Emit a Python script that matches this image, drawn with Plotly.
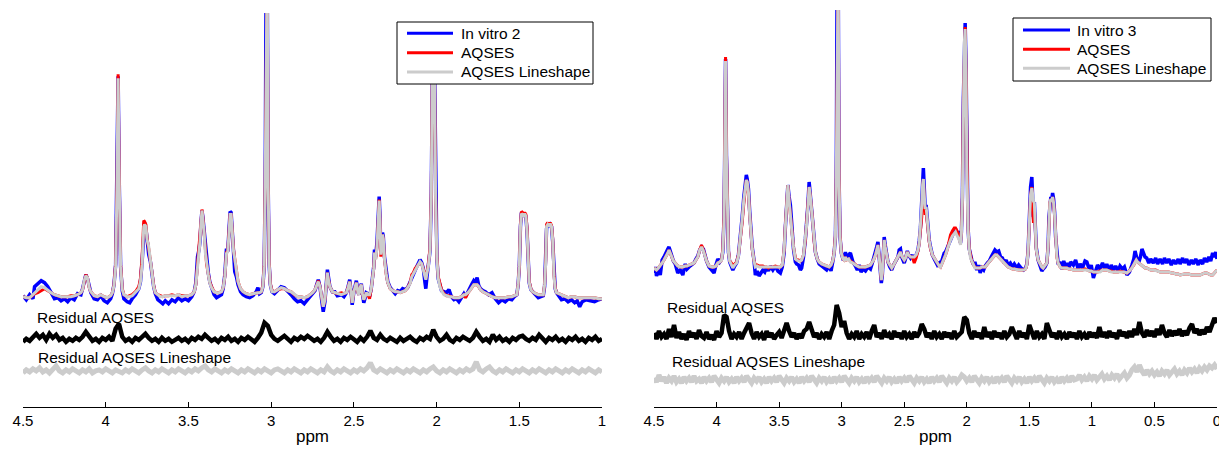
import numpy as np
import plotly.graph_objects as go

FONT = "Liberation Sans, Arial, Helvetica, sans-serif"

# ---------------- Left panel (In vitro 2), chemical shift in ppm ----------------
L_PPM = [
    4.50, 4.48, 4.46, 4.44, 4.43, 4.41, 4.39, 4.37, 4.35, 4.33,
    4.31, 4.29, 4.27, 4.25, 4.23, 4.21, 4.19, 4.17, 4.15, 4.14,
    4.13, 4.12, 4.11, 4.10, 4.09, 4.07, 4.05, 4.03, 4.01, 3.99,
    3.97, 3.96, 3.95, 3.94, 3.932, 3.925, 3.918, 3.91, 3.90, 3.89,
    3.87, 3.855, 3.84, 3.82, 3.80, 3.79, 3.78, 3.77, 3.765, 3.757,
    3.75, 3.74, 3.73, 3.72, 3.71, 3.70, 3.685, 3.67, 3.655, 3.64,
    3.62, 3.60, 3.58, 3.56, 3.54, 3.52, 3.50, 3.48, 3.465, 3.455,
    3.445, 3.437, 3.43, 3.425, 3.418, 3.412, 3.405, 3.398, 3.39, 3.38,
    3.37, 3.36, 3.345, 3.33, 3.315, 3.30, 3.29, 3.28, 3.27, 3.262,
    3.255, 3.248, 3.242, 3.235, 3.228, 3.22, 3.21, 3.20, 3.185, 3.17,
    3.15, 3.13, 3.11, 3.09, 3.08, 3.07, 3.06, 3.05, 3.042, 3.036,
    3.03, 3.024, 3.018, 3.012, 3.005, 2.995, 2.98, 2.96, 2.94, 2.92,
    2.90, 2.88, 2.86, 2.84, 2.82, 2.80, 2.78, 2.765, 2.75, 2.735,
    2.725, 2.715, 2.705, 2.695, 2.685, 2.675, 2.667, 2.66, 2.652, 2.645,
    2.63, 2.615, 2.60, 2.575, 2.56, 2.545, 2.535, 2.525, 2.515, 2.51,
    2.50, 2.49, 2.485, 2.475, 2.47, 2.46, 2.455, 2.448, 2.44, 2.43,
    2.425, 2.415, 2.405, 2.395, 2.39, 2.38, 2.375, 2.368, 2.36, 2.353,
    2.347, 2.342, 2.337, 2.333, 2.327, 2.322, 2.315, 2.305, 2.295, 2.28,
    2.265, 2.25, 2.235, 2.22, 2.205, 2.19, 2.175, 2.16, 2.15, 2.14,
    2.13, 2.12, 2.11, 2.10, 2.09, 2.08, 2.07, 2.065, 2.058, 2.05,
    2.04, 2.032, 2.024, 2.014, 2.006, 1.998, 1.99, 1.98, 1.97, 1.955,
    1.94, 1.925, 1.91, 1.895, 1.88, 1.865, 1.85, 1.835, 1.825, 1.81,
    1.795, 1.785, 1.775, 1.765, 1.755, 1.745, 1.735, 1.72, 1.705, 1.685,
    1.665, 1.645, 1.625, 1.605, 1.585, 1.565, 1.545, 1.53, 1.515, 1.507,
    1.50, 1.493, 1.487, 1.48, 1.473, 1.467, 1.46, 1.453, 1.447, 1.44,
    1.43, 1.42, 1.40, 1.385, 1.37, 1.355, 1.347, 1.34, 1.335, 1.328,
    1.32, 1.313, 1.305, 1.298, 1.29, 1.283, 1.275, 1.26, 1.245, 1.225,
    1.205, 1.185, 1.165, 1.15, 1.135, 1.12, 1.095, 1.07, 1.045, 1.02,
    1.00,
]
L_INVITRO = [
    1, -3, 2, -2, 10, 13, 16, 14, 10, 4,
    -2, -1, -4, -2, -5, -1, -3, 3, 2, 8,
    16, 22, 18, 10, 4, -2, -3, 1, -4, -6,
    -2, 3, 12, 32, 110, 220, 112, 30, 6, -2,
    -5, -6, -2, 2, 8, 15, 35, 70, 74, 68,
    55, 42, 35, 22, 10, 3, -3, -5, -7, -4,
    -7, -3, -5, -1, -4, -2, -4, 0, 5, 14,
    40, 46, 55, 72, 86, 78, 66, 50, 38, 24,
    14, 8, 2, -1, 1, 2, 8, 22, 48, 45,
    66, 85, 84, 64, 45, 25, 20, 12, 5, 2,
    0, -1, 1, 5, 9, 3, 4, 10, 30, 110,
    330, 330, 110, 32, 12, 5, 3, 6, 10, 9,
    6, 2, -2, -5, -4, -7, -3, 0, 3, 6,
    12, 17, 10, 0, -15, -5, 12, 27, 18, 10,
    5, 5, 1, 2, 0, 4, 10, 17, 2, -8,
    5, 14, 16, 5, 2, 10, 13, 3, -6, 0,
    4, 3, 0, 8, 14, 30, 47, 40, 55, 80,
    100, 80, 45, 50, 64, 60, 40, 25, 15, 9,
    6, 3, 6, 5, 8, 7, 9, 14, 18, 22,
    26, 30, 34, 37, 34, 28, 14, 8, 20, 30,
    45, 100, 250, 250, 100, 38, 18, 10, 6, 5,
    4, 7, 0, -3, -2, -5, -1, 3, 0, 6,
    10, 13, 16, 14, 19, 11, 8, 6, 5, 2,
    4, -2, -6, -3, -5, -2, -3, 0, 2, 12,
    30, 70, 84, 82, 80, 83, 80, 65, 35, 14,
    7, 5, 2, -1, 0, 1, 10, 35, 68, 73,
    70, 72, 70, 55, 20, 8, 4, 1, -3, -2,
    -5, -3, -6, -4, -10, -5, -3, -4, -5, -3,
    -2,
]
L_AQSES = [
    0, -1, -1, 2, 3, 4, 6, 8, 6, 4,
    2, 1, 0, 0, 0, 1, 1, 2, 4, 7,
    16, 22, 19, 9, 5, 1, 0, 2, 0, -1,
    1, 4, 12, 33, 112, 222, 115, 32, 8, 2,
    0, 1, 2, 5, 10, 18, 40, 76, 75, 72,
    58, 48, 38, 24, 11, 4, 2, 1, 0, 1,
    1, 2, 1, 2, 1, 1, 1, 2, 5, 12,
    32, 42, 56, 74, 87, 78, 65, 45, 32, 23,
    14, 10, 5, 4, 4, 5, 9, 20, 44, 46,
    64, 83, 82, 62, 48, 38, 25, 15, 8, 5,
    3, 2, 3, 4, 4, 4, 5, 11, 32, 115,
    330, 330, 115, 34, 13, 6, 5, 7, 8, 8,
    6, 5, 2, 0, 0, -1, 0, 2, 4, 7,
    12, 16, 10, 1, -10, -3, 12, 24, 16, 10,
    5, 4, 3, 4, 3, 4, 9, 15, 2, -6,
    5, 12, 14, 4, 2, 10, 12, 3, -3, 1,
    4, 2, -2, 8, 14, 28, 44, 38, 50, 78,
    97, 76, 40, 48, 62, 58, 38, 23, 14, 8,
    6, 5, 5, 4, 5, 6, 9, 14, 22, 24,
    28, 30, 32, 34, 33, 28, 22, 18, 25, 32,
    48, 104, 252, 252, 104, 40, 20, 12, 7, 3,
    1, 1, 0, -1, -1, -1, 0, 2, -1, 4,
    7, 10, 12, 12, 12, 10, 7, 5, 4, 2,
    0, -1, -1, -1, -1, 0, 0, 1, 2, 12,
    30, 72, 85, 84, 82, 84, 82, 68, 38, 15,
    8, 5, 3, 2, 2, 2, 12, 37, 72, 74,
    71, 74, 71, 58, 22, 9, 4, 3, 2, 1,
    -1, 0, 0, -1, -1, -1, -1, -1, -1, -2,
    -2,
]
L_LINESHAPE = [
    0, -1, -1, 2, 4, 7, 10, 9, 6, 4,
    2, 1, 0, 0, 0, 0, 1, 2, 4, 7,
    16, 21, 19, 9, 5, 1, 0, 2, 0, -1,
    1, 4, 11, 30, 108, 218, 110, 30, 7, 2,
    0, 0, 1, 4, 8, 15, 32, 70, 72, 70,
    57, 50, 38, 24, 10, 4, 2, 0, 0, 1,
    1, 1, 1, 2, 0, 1, 1, 2, 5, 12,
    30, 40, 55, 72, 86, 76, 64, 44, 32, 22,
    13, 9, 5, 4, 4, 5, 9, 20, 43, 45,
    62, 82, 82, 62, 46, 38, 24, 15, 8, 5,
    3, 2, 3, 4, 4, 4, 5, 10, 30, 110,
    330, 330, 110, 32, 12, 5, 5, 7, 9, 8,
    6, 5, 2, 0, 0, -1, 0, 2, 4, 7,
    12, 15, 10, 1, -10, -3, 12, 24, 15, 10,
    5, 4, 3, 2, 3, 4, 9, 15, 2, -6,
    5, 12, 14, 4, 2, 10, 12, 3, -3, 1,
    4, 2, 2, 8, 14, 28, 44, 37, 50, 77,
    96, 76, 42, 48, 62, 58, 38, 23, 14, 8,
    6, 5, 5, 4, 5, 6, 9, 13, 20, 23,
    27, 30, 33, 35, 33, 27, 20, 17, 24, 30,
    45, 100, 250, 250, 100, 38, 18, 10, 6, 2,
    1, 0, 0, -1, -1, -1, 0, 2, 2, 4,
    7, 10, 12, 12, 12, 10, 7, 5, 4, 2,
    0, -1, -1, -1, -1, 0, 0, 1, 2, 12,
    30, 70, 83, 82, 80, 83, 80, 65, 35, 14,
    7, 5, 3, 2, 2, 2, 12, 35, 70, 72,
    70, 73, 70, 56, 20, 8, 4, 3, 2, 1,
    -1, 0, 0, -1, -1, -1, -1, -1, -1, -2,
    -2,
]
# residuals (sampled every 0.02 ppm from 4.50 down to 1.00), plotted offset below
L_RES_PPM = np.round(4.50 - 0.02 * np.arange(176), 2)
L_RES_AQSES = [
    -45, -42, -44, -40, -37, -41, -38, -43, -37, -41,
    -38, -43, -41, -45, -42, -44, -41, -43, -40, -35,
    -39, -44, -42, -45, -41, -43, -40, -44, -32, -27,
    -40, -44, -42, -45, -41, -43, -40, -37, -41, -44,
    -42, -45, -41, -44, -42, -45, -43, -41, -44, -42,
    -45, -41, -43, -40, -42, -38, -41, -44, -42, -45,
    -41, -43, -40, -44, -42, -45, -41, -43, -40, -42,
    -45, -41, -36, -26, -29, -38, -42, -44, -41, -39,
    -42, -45, -41, -43, -40, -42, -39, -41, -44, -42,
    -45, -41, -35, -40, -44, -42, -45, -41, -43, -40,
    -42, -45, -41, -44, -40, -34, -41, -43, -38, -42,
    -44, -41, -43, -45, -41, -44, -42, -40, -43, -45,
    -41, -43, -40, -42, -33, -40, -44, -42, -38, -43,
    -45, -41, -43, -40, -42, -44, -41, -35, -40, -44,
    -42, -45, -38, -43, -40, -44, -42, -45, -41, -43,
    -40, -39, -42, -44, -41, -43, -38, -42, -45, -41,
    -43, -40, -44, -42, -45, -41, -43, -40, -44, -42,
    -45, -41, -43, -40, -44, -42,
]
L_RES_LINESHAPE = [
    -76, -73, -75, -72, -74, -71, -75, -73, -76, -72,
    -69, -74, -76, -73, -75, -72, -74, -76, -73, -75,
    -72, -76, -74, -73, -75, -72, -74, -76, -73, -74,
    -76, -73, -75, -72, -74, -76, -73, -71, -74, -76,
    -73, -75, -72, -74, -76, -73, -75, -72, -74, -76,
    -73, -75, -72, -74, -71, -69, -73, -75, -72, -74,
    -76, -73, -75, -72, -74, -76, -73, -75, -72, -74,
    -76, -73, -75, -72, -74, -76, -73, -72, -74, -76,
    -73, -75, -72, -74, -76, -73, -75, -72, -74, -76,
    -73, -75, -70, -74, -76, -73, -75, -72, -74, -76,
    -73, -75, -72, -74, -71, -66, -73, -75, -72, -74,
    -76, -73, -75, -72, -74, -76, -73, -75, -72, -74,
    -76, -73, -75, -72, -70, -74, -76, -73, -75, -72,
    -74, -76, -73, -75, -72, -74, -72, -65, -73, -75,
    -72, -70, -74, -76, -73, -75, -72, -74, -76, -73,
    -75, -72, -74, -76, -73, -75, -72, -74, -76, -73,
    -75, -72, -74, -76, -73, -75, -72, -74, -76, -73,
    -75, -72, -74, -76, -73, -75,
]

# ---------------- Right panel (In vitro 3) ----------------
R_PPM = [
    4.50, 4.49, 4.48, 4.465, 4.45, 4.435, 4.42, 4.405, 4.39, 4.38,
    4.37, 4.36, 4.345, 4.33, 4.31, 4.29, 4.27, 4.25, 4.236, 4.22,
    4.20, 4.18, 4.165, 4.15, 4.135, 4.12, 4.105, 4.095, 4.08, 4.06,
    4.04, 4.02, 4.005, 3.99, 3.975, 3.96, 3.95, 3.94, 3.935, 3.928,
    3.921, 3.915, 3.905, 3.895, 3.88, 3.87, 3.855, 3.84, 3.825, 3.81,
    3.795, 3.782, 3.77, 3.762, 3.755, 3.745, 3.735, 3.725, 3.715, 3.70,
    3.69, 3.675, 3.66, 3.645, 3.63, 3.615, 3.60, 3.585, 3.57, 3.55,
    3.53, 3.51, 3.49, 3.475, 3.46, 3.45, 3.44, 3.43, 3.42, 3.41,
    3.40, 3.385, 3.37, 3.36, 3.345, 3.33, 3.32, 3.305, 3.29, 3.28,
    3.27, 3.26, 3.25, 3.24, 3.23, 3.22, 3.21, 3.195, 3.18, 3.16,
    3.14, 3.12, 3.10, 3.085, 3.07, 3.06, 3.05, 3.043, 3.036, 3.028,
    3.021, 3.013, 3.003, 2.99, 2.98, 2.97, 2.96, 2.945, 2.93, 2.91,
    2.89, 2.875, 2.86, 2.845, 2.83, 2.81, 2.79, 2.77, 2.755, 2.745,
    2.73, 2.72, 2.71, 2.70, 2.69, 2.683, 2.675, 2.668, 2.66, 2.652,
    2.643, 2.63, 2.615, 2.60, 2.585, 2.565, 2.55, 2.54, 2.53, 2.52,
    2.50, 2.49, 2.475, 2.465, 2.45, 2.435, 2.42, 2.405, 2.39, 2.38,
    2.37, 2.36, 2.353, 2.347, 2.34, 2.333, 2.325, 2.318, 2.31, 2.30,
    2.29, 2.275, 2.26, 2.25, 2.235, 2.22, 2.21, 2.195, 2.18, 2.17,
    2.155, 2.14, 2.13, 2.115, 2.10, 2.09, 2.08, 2.07, 2.06, 2.05,
    2.043, 2.035, 2.027, 2.02, 2.013, 2.006, 1.999, 1.99, 1.98, 1.97,
    1.96, 1.945, 1.935, 1.92, 1.905, 1.893, 1.88, 1.865, 1.853, 1.835,
    1.82, 1.805, 1.79, 1.775, 1.76, 1.745, 1.73, 1.715, 1.70, 1.685,
    1.67, 1.652, 1.635, 1.62, 1.60, 1.585, 1.565, 1.546, 1.53, 1.52,
    1.51, 1.50, 1.49, 1.48, 1.473, 1.467, 1.46, 1.455, 1.445, 1.43,
    1.415, 1.40, 1.39, 1.375, 1.36, 1.35, 1.343, 1.336, 1.328, 1.32,
    1.314, 1.306, 1.298, 1.29, 1.28, 1.27, 1.254, 1.24, 1.225, 1.21,
    1.20, 1.185, 1.17, 1.148, 1.13, 1.11, 1.094, 1.075, 1.055, 1.04,
    1.02, 1.005, 0.988, 0.97, 0.955, 0.935, 0.915, 0.895, 0.881, 0.86,
    0.845, 0.828, 0.81, 0.79, 0.775, 0.755, 0.74, 0.72, 0.70, 0.68,
    0.665, 0.655, 0.645, 0.635, 0.625, 0.612, 0.60, 0.59, 0.575, 0.562,
    0.545, 0.53, 0.509, 0.49, 0.475, 0.455, 0.435, 0.42, 0.402, 0.385,
    0.365, 0.348, 0.33, 0.31, 0.295, 0.275, 0.26, 0.242, 0.225, 0.205,
    0.189, 0.17, 0.15, 0.135, 0.115, 0.10, 0.082, 0.065, 0.05, 0.035,
    0.02, 0.01, 0.0,
]
R_INVITRO = [
    -6, 0, -9, -2, -8, 7, 10, 15, 18, 20,
    15, 10, 6, 3, -6, -3, -8, 3, -2, 0,
    2, 4, 8, 11, 17, 20, 18, 12, 6, 0,
    -3, -6, 2, 8, 5, 8, 15, 50, 110, 208,
    112, 55, 15, 5, -1, -3, 1, 4, 12, 28,
    50, 70, 86, 92, 88, 78, 55, 35, 20, 6,
    -8, -4, -9, -6, -3, -5, 0, -4, 1, -3,
    1, -4, -6, 0, 14, 40, 62, 82, 70, 62,
    45, 18, 5, 3, 2, -3, -1, 10, 28, 42,
    62, 85, 72, 62, 50, 28, 15, 8, 3, 1,
    -1, -3, 1, -4, 6, 14, 30, 90, 300, 300,
    90, 30, 14, 8, 8, 15, 7, 12, 14, 5,
    1, -3, 2, -5, -2, -4, 0, -2, 4, 8,
    14, 20, 25, 12, -2, -16, -8, 12, 30, 22,
    12, 5, 0, -3, 2, 7, 10, 17, 18, 10,
    4, 8, 16, 12, 9, 12, 7, 12, 17, 26,
    40, 66, 85, 99, 80, 60, 62, 52, 38, 27,
    20, 12, 8, 5, 2, 4, 2, 8, 14, 15,
    20, 25, 28, 32, 36, 38, 34, 32, 36, 24,
    35, 70, 170, 230, 244, 200, 100, 40, 18, 10,
    7, 2, 5, -3, 2, -6, -1, -3, 1, 4,
    6, 10, 14, 17, 15, 16, 10, 9, 4, 7,
    2, 4, 0, 3, -1, 2, -1, -3, -1, 3,
    15, 55, 80, 90, 70, 50, 65, 45, 20, 7,
    2, -4, -2, 0, 4, 20, 50, 66, 70, 68,
    74, 68, 55, 30, 10, 4, 4, -2, 6, 0,
    4, -2, 5, 2, 7, -2, 3, -1, 6, 5,
    -3, 2, -11, -3, 2, -2, 4, -2, 3, -4,
    2, -3, 1, -4, 1, -2, 0, -8, -5, 2,
    8, 16, 10, 6, 5, 10, 18, 14, 10, 9,
    4, 8, 4, 9, 3, 8, 3, 9, 4, 8,
    2, 7, 3, 8, 3, 9, 4, 8, 2, 7,
    3, 8, 2, 7, 3, 9, 5, 10, 6, 14,
    10, 15, 8,
]
R_AQSES = [
    -1, -2, -3, -1, 1, 4, 7, 10, 14, 17,
    14, 10, 6, 4, 1, 0, 0, 1, 1, 2,
    3, 4, 7, 10, 17, 22, 17, 12, 6, 1,
    0, 0, 1, 4, 5, 7, 18, 52, 112, 210,
    115, 57, 17, 6, 3, 2, 3, 5, 12, 26,
    45, 64, 80, 87, 85, 74, 52, 32, 18, 6,
    2, 2, 1, 1, 1, 0, 0, -1, 0, 0,
    1, 0, 0, 2, 17, 42, 64, 82, 66, 52,
    38, 20, 9, 7, 7, 6, 7, 12, 27, 42,
    60, 80, 70, 58, 44, 26, 15, 8, 5, 3,
    2, 1, 0, 2, 7, 15, 32, 92, 300, 300,
    92, 32, 15, 8, 7, 10, 7, 8, 6, 4,
    2, 1, 0, 0, 0, 0, 1, 2, 5, 7,
    12, 18, 22, 10, 0, -13, -6, 10, 27, 20,
    12, 5, 2, -1, 2, 7, 10, 14, 15, 11,
    7, 9, 15, 12, 10, 10, 4, 9, 16, 24,
    35, 50, 78, 88, 70, 52, 56, 45, 33, 25,
    18, 12, 9, 7, 3, 1, 0, 4, 9, 12,
    18, 26, 32, 36, 39, 39, 36, 34, 28, 24,
    35, 70, 168, 226, 240, 196, 98, 40, 18, 10,
    6, 2, 0, -1, -1, -1, 0, 0, 0, 3,
    5, 8, 10, 12, 12, 10, 7, 5, 4, 2,
    0, -1, -2, -2, -3, -3, -3, -3, -2, 2,
    15, 52, 72, 80, 65, 44, 60, 40, 18, 7,
    3, 0, -1, 1, 4, 20, 48, 64, 68, 66,
    70, 64, 52, 28, 10, 4, 0, -1, -1, -1,
    -1, -2, -2, -3, -3, -3, -3, -3, -2, -3,
    -4, -4, -5, -5, -5, -4, -3, -3, -3, -4,
    -4, -5, -5, -5, -4, -5, -5, -6, -4, -1,
    2, 5, 7, 5, 4, 2, 1, 0, -1, -1,
    -2, -3, -3, -3, -4, -5, -5, -5, -5, -5,
    -6, -6, -7, -7, -8, -7, -7, -7, -7, -8,
    -8, -8, -8, -8, -7, -6, -6, -7, -8, -8,
    -6, -5, -3,
]
R_LINESHAPE = [
    -1, -2, -3, -1, 1, 4, 7, 10, 14, 17,
    14, 10, 6, 4, 1, 0, 0, 1, 1, 2,
    3, 4, 7, 10, 17, 20, 16, 12, 6, 1,
    0, 0, 1, 4, 5, 7, 16, 47, 105, 206,
    108, 55, 15, 6, 1, -1, 2, 4, 11, 27,
    48, 67, 82, 87, 85, 74, 52, 32, 18, 6,
    0, 1, 0, 0, 0, 0, 0, 0, 0, 0,
    0, 0, 0, 2, 17, 40, 64, 82, 66, 50,
    38, 20, 8, 7, 6, 6, 7, 12, 27, 42,
    60, 80, 70, 57, 44, 26, 15, 8, 5, 3,
    2, 1, 0, 2, 7, 14, 30, 88, 300, 300,
    88, 30, 14, 8, 7, 10, 7, 8, 5, 4,
    2, 1, 0, 0, 0, 0, 1, 2, 5, 7,
    12, 18, 22, 10, 0, -13, -6, 10, 27, 20,
    12, 5, 2, -1, 2, 7, 10, 14, 15, 11,
    7, 9, 15, 12, 10, 10, 10, 12, 17, 24,
    40, 62, 82, 88, 72, 58, 60, 48, 35, 26,
    19, 12, 9, 7, 3, 1, 0, 4, 9, 12,
    18, 24, 27, 31, 34, 35, 32, 30, 27, 22,
    34, 68, 165, 224, 238, 194, 96, 38, 17, 9,
    6, 2, -1, -1, -1, -1, 0, 0, 0, 3,
    5, 7, 10, 12, 12, 10, 7, 5, 4, 2,
    0, -1, -2, -2, -3, -3, -3, -3, -2, 2,
    15, 52, 72, 79, 68, 66, 64, 40, 18, 7,
    3, 0, -1, 1, 4, 20, 48, 64, 68, 66,
    70, 64, 52, 28, 10, 4, 0, -1, -1, -1,
    -1, -2, -2, -3, -3, -3, -3, -3, -3, -3,
    -4, -4, -5, -5, -5, -5, -3, -3, -3, -4,
    -5, -5, -5, -5, -5, -5, -5, -6, -4, -1,
    2, 5, 7, 5, 4, 2, 1, 0, -1, -1,
    -2, -3, -3, -4, -4, -5, -5, -5, -5, -5,
    -6, -6, -7, -7, -8, -7, -7, -7, -7, -8,
    -8, -8, -8, -8, -7, -6, -6, -7, -8, -8,
    -6, -5, -3,
]
# residuals (sampled every 0.02 ppm from 4.50 down to 0.00), plotted offset below
R_RES_PPM = np.round(4.50 - 0.02 * np.arange(226), 2)
R_RES_AQSES = [
    -66, -72, -64, -70, -67, -72, -62, -70, -58, -71,
    -65, -72, -67, -73, -64, -70, -66, -72, -63, -69,
    -71, -65, -72, -68, -73, -64, -70, -66, -48, -50,
    -64, -72, -67, -70, -65, -72, -66, -62, -56, -66,
    -72, -65, -70, -67, -73, -64, -70, -66, -72, -68,
    -65, -71, -62, -56, -64, -70, -66, -72, -67, -71,
    -64, -62, -55, -64, -70, -66, -72, -67, -70, -65,
    -72, -64, -58, -38, -46, -60, -54, -66, -72, -67,
    -70, -64, -72, -67, -70, -65, -72, -64, -58, -70,
    -66, -72, -63, -70, -67, -72, -64, -70, -66, -72,
    -64, -70, -67, -72, -65, -70, -66, -57, -62, -70,
    -66, -72, -64, -70, -67, -72, -65, -70, -66, -72,
    -64, -70, -67, -65, -50, -53, -66, -72, -64, -70,
    -66, -72, -60, -70, -65, -72, -64, -70, -66, -72,
    -64, -70, -67, -60, -66, -72, -64, -70, -66, -72,
    -58, -66, -72, -64, -70, -67, -72, -56, -64, -70,
    -66, -72, -64, -70, -67, -72, -65, -70, -66, -72,
    -64, -70, -67, -72, -65, -70, -66, -71, -60, -70,
    -65, -71, -64, -70, -66, -72, -63, -69, -65, -71,
    -64, -70, -62, -68, -55, -66, -70, -63, -69, -64,
    -70, -62, -68, -58, -66, -70, -63, -69, -64, -68,
    -62, -69, -64, -68, -61, -57, -66, -62, -68, -63,
    -67, -60, -65, -58, -51, -56,
]
R_RES_LINESHAPE = [
    -111, -115, -108, -114, -110, -116, -111, -114, -109, -115,
    -112, -116, -110, -114, -111, -115, -109, -114, -112, -116,
    -110, -114, -111, -115, -109, -113, -116, -111, -114, -110,
    -115, -112, -116, -110, -114, -111, -115, -109, -113, -116,
    -111, -114, -110, -115, -112, -116, -110, -114, -111, -115,
    -109, -113, -116, -111, -114, -110, -115, -112, -116, -110,
    -114, -111, -115, -109, -113, -116, -111, -114, -110, -115,
    -112, -116, -110, -114, -111, -115, -109, -113, -116, -111,
    -114, -110, -115, -112, -116, -110, -114, -111, -115, -109,
    -113, -116, -111, -114, -110, -115, -112, -116, -110, -114,
    -111, -115, -109, -113, -116, -111, -114, -110, -115, -112,
    -116, -110, -114, -111, -115, -109, -113, -116, -111, -114,
    -110, -115, -112, -108, -110, -114, -111, -115, -109, -113,
    -116, -111, -114, -110, -115, -112, -116, -110, -114, -111,
    -115, -109, -113, -116, -111, -114, -110, -115, -112, -116,
    -110, -114, -111, -115, -109, -113, -116, -111, -114, -110,
    -115, -112, -116, -110, -114, -111, -115, -109, -113, -112,
    -108, -113, -110, -114, -109, -112, -108, -113, -110, -107,
    -112, -109, -113, -108, -111, -107, -112, -109, -106, -111,
    -108, -103, -100, -105, -98, -104, -108, -103, -107, -104,
    -108, -105, -109, -104, -107, -103, -108, -105, -102, -107,
    -104, -108, -103, -106, -101, -105, -102, -106, -101, -104,
    -100, -103, -99, -101, -98, -102,
]

SERIES_NAMES_L = ["In vitro 2", "AQSES", "AQSES Lineshape"]
SERIES_NAMES_R = ["In vitro 3", "AQSES", "AQSES Lineshape"]
TICK_VALS_L = [4.5, 4, 3.5, 3, 2.5, 2, 1.5, 1]
TICK_TEXT_L = ["4.5", "4", "3.5", "3", "2.5", "2", "1.5", "1"]
TICK_VALS_R = [4.5, 4, 3.5, 3, 2.5, 2, 1.5, 1, 0.5, 0]
TICK_TEXT_R = ["4.5", "4", "3.5", "3", "2.5", "2", "1.5", "1", "0.5", "0"]

BLUE, RED, GRAY, BLACK = "#0000ff", "#ff0000", "#cccccc", "#000000"
SERIES_COLORS = [BLUE, RED, GRAY]

# The page body has an 8 px margin, so the figure starts 8 px into the window;
# every layout position below is measured in figure pixels.
W, H = 1219, 446

fig = go.Figure()


def add_panel(xa, ya, names, ppm, vitro, aqses, lineshape, rppm, res1, res2):
    for name, y, col, w in zip(names, [vitro, aqses, lineshape], SERIES_COLORS,
                               [3.5, 3, 3]):
        fig.add_trace(go.Scatter(x=ppm, y=y, mode="lines", name=name,
                                 line=dict(color=col, width=w), showlegend=False,
                                 xaxis=xa, yaxis=ya, hoverinfo="skip"))
    fig.add_trace(go.Scatter(x=rppm, y=res1, mode="lines", name="Residual AQSES",
                             showlegend=False, line=dict(color=BLACK, width=4.5),
                             xaxis=xa, yaxis=ya, hoverinfo="skip"))
    fig.add_trace(go.Scatter(x=rppm, y=res2, mode="lines",
                             name="Residual AQSES Lineshape", showlegend=False,
                             line=dict(color=GRAY, width=5),
                             xaxis=xa, yaxis=ya, hoverinfo="skip"))


add_panel("x", "y", SERIES_NAMES_L, L_PPM, L_INVITRO, L_AQSES, L_LINESHAPE,
          L_RES_PPM, L_RES_AQSES, L_RES_LINESHAPE)
add_panel("x2", "y2", SERIES_NAMES_R, R_PPM, R_INVITRO, R_AQSES, R_LINESHAPE,
          R_RES_PPM, R_RES_AQSES, R_RES_LINESHAPE)


def px(v):
    return v / W


def py(v):
    return 1 - v / H


xcommon = dict(showgrid=False, zeroline=False, showline=True, linecolor="black",
               linewidth=1, ticks="inside", ticklen=5, tickcolor="black", tickwidth=1,
               automargin=False, ticklabeloverflow="allow",
               tickfont=dict(family=FONT, size=15, color="black"),
               title=dict(text="ppm", font=dict(family=FONT, size=17, color="black"),
                          standoff=2),
               fixedrange=True)
ycommon = dict(visible=False, showgrid=False, zeroline=False, fixedrange=True,
               automargin=False)

AXIS_Y = 399  # figure pixel row of the x axis line
fig.update_layout(
    width=W, height=H, margin=dict(l=0, r=0, t=0, b=0, autoexpand=False),
    paper_bgcolor="white", plot_bgcolor="white",
    font=dict(family=FONT, color="black"),
    showlegend=False,
    xaxis=dict(xcommon, domain=[px(15), px(594)], range=[4.5, 1.0], anchor="y",
               tickvals=TICK_VALS_L, ticktext=TICK_TEXT_L),
    yaxis=dict(ycommon, domain=[py(AXIS_Y), py(5)], range=[-110, 283], anchor="x"),
    xaxis2=dict(xcommon, domain=[px(646), px(1209)], range=[4.5, 0.0], anchor="y2",
                tickvals=TICK_VALS_R, ticktext=TICK_TEXT_R),
    yaxis2=dict(ycommon, domain=[py(AXIS_Y), py(2)], range=[-140, 257], anchor="x2"),
)

# residual labels (data coordinates)
ann_font = dict(family=FONT, size=15.5, color="black")
for xr, yr, xv, yv, txt in [
    ("x", "y", 4.427, -21, "Residual AQSES"),
    ("x", "y", 4.42, -61, "Residual AQSES Lineshape"),
    ("x2", "y2", 4.409, -40, "Residual AQSES"),
    ("x2", "y2", 4.369, -94, "Residual AQSES Lineshape"),
]:
    fig.add_annotation(x=xv, y=yv, xref=xr, yref=yr, text=txt, showarrow=False,
                       xanchor="left", yanchor="middle", font=ann_font)

# boxed legends (MATLAB style), one per panel
LEGENDS = [
    # box x0, x1, y0, y1, line x0, x1, text x, row ys, names
    (389, 585, 14, 76, 399, 445, 451, [25.3, 44.7, 64.0], SERIES_NAMES_L),
    (1005, 1203, 10, 73, 1015, 1062, 1067, [22.0, 41.3, 60.3], SERIES_NAMES_R),
]
for bx0, bx1, by0, by1, lx0, lx1, tx, rows, names in LEGENDS:
    fig.add_shape(type="rect", xref="paper", yref="paper", layer="above",
                  x0=px(bx0), x1=px(bx1), y0=py(by1), y1=py(by0),
                  line=dict(color="black", width=1), fillcolor="white")
    for ry, col, name in zip(rows, SERIES_COLORS, names):
        fig.add_shape(type="line", xref="paper", yref="paper", layer="above",
                      x0=px(lx0), x1=px(lx1), y0=py(ry), y1=py(ry),
                      line=dict(color=col, width=3))
        fig.add_annotation(x=px(tx), y=py(ry), xref="paper", yref="paper",
                           text=name, showarrow=False, xanchor="left",
                           yanchor="middle", font=ann_font)

fig.write_html("out.html")
